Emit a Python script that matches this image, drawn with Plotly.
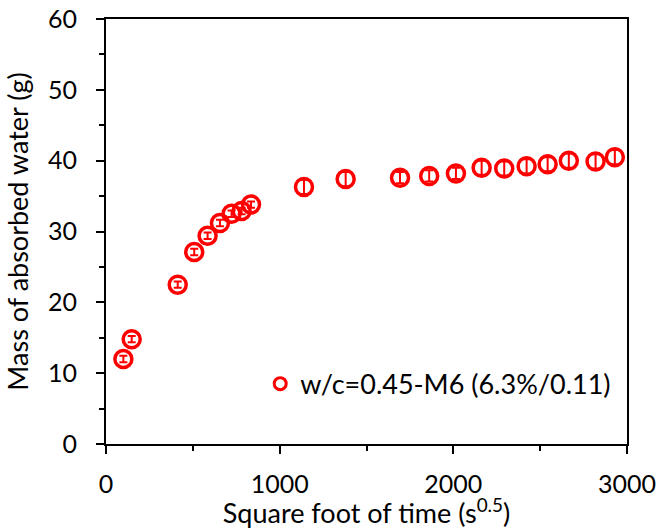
import plotly.graph_objects as go

# Data
time_sqrt = [100, 148, 413, 508, 585, 656, 723, 781, 835, 1140, 1380,
             1693, 1861, 2015, 2163, 2293, 2422, 2543, 2665, 2819, 2930]
mass = [12.0, 14.8, 22.5, 27.1, 29.4, 31.2, 32.5, 32.9, 33.8, 36.3, 37.4,
        37.6, 37.85, 38.2, 39.0, 38.9, 39.2, 39.5, 40.0, 39.9, 40.5]
mass_err = [0.45, 0.45, 0.45, 0.45, 0.45, 0.45, 0.45, 0.45, 0.45, 1.0, 1.0,
            0.8, 0.8, 0.8, 1.0, 1.0, 1.0, 1.0, 1.0, 1.0, 1.0]
series_name = "w/c=0.45-M6 (6.3%/0.11)"

x_ticks = [0, 1000, 2000, 3000]
y_ticks = [0, 10, 20, 30, 40, 50, 60]

FONT = "Lato, Carlito, Calibri, sans-serif"
RED = "#ff0000"
FS_TICK = 25
FS_TEXT = 27

fig = go.Figure()
fig.add_trace(go.Scatter(
    x=time_sqrt, y=mass, mode="markers", showlegend=False,
    error_y=dict(type="data", array=mass_err, color=RED, thickness=2, width=4),
    marker=dict(symbol="circle-open", size=17, color=RED,
                line=dict(color=RED, width=3.5)),
))
fig.add_trace(go.Scatter(
    x=[None], y=[None], mode="markers", name=series_name,
    marker=dict(symbol="circle-open", size=12, color=RED,
                line=dict(color=RED, width=3)),
))

axis_common = dict(
    showline=True, linecolor="black", linewidth=1.8, mirror=True,
    ticks="outside", ticklen=8, tickwidth=1.8, tickcolor="black",
    showgrid=False, zeroline=False, automargin=False,
    tickfont=dict(family=FONT, size=FS_TICK, color="black"),
)

fig.update_xaxes(
    range=[0, 3000], tickvals=x_ticks, **axis_common,
    minor=dict(ticks="outside", ticklen=5, tickwidth=1.8, tickcolor="black", dtick=500),
    title=dict(text="Square foot of time (s<sup>0.5</sup>)",
               font=dict(family=FONT, size=FS_TEXT, color="black"), standoff=2),
    ticklabelstandoff=9,
)
fig.update_yaxes(
    range=[0, 60], tickvals=y_ticks, **axis_common,
    minor=dict(ticks="outside", ticklen=5, tickwidth=1.8, tickcolor="black", dtick=5),
    title=dict(text="Mass of absorbed water (g)",
               font=dict(family=FONT, size=FS_TEXT, color="black"), standoff=12),
    ticklabelstandoff=14,
)

fig.update_layout(
    width=671, height=529,
    margin=dict(l=106, r=44, t=19, b=85),
    paper_bgcolor="white", plot_bgcolor="white",
    font=dict(family=FONT, color="black"),
    legend=dict(x=0.296, y=0.141, xanchor="left", yanchor="middle",
                bgcolor="rgba(0,0,0,0)", itemwidth=30,
                font=dict(family=FONT, size=FS_TEXT, color="black")),
)

fig.write_html("out.html", config={"displayModeBar": False},
               post_script="document.body.style.margin='0';")
